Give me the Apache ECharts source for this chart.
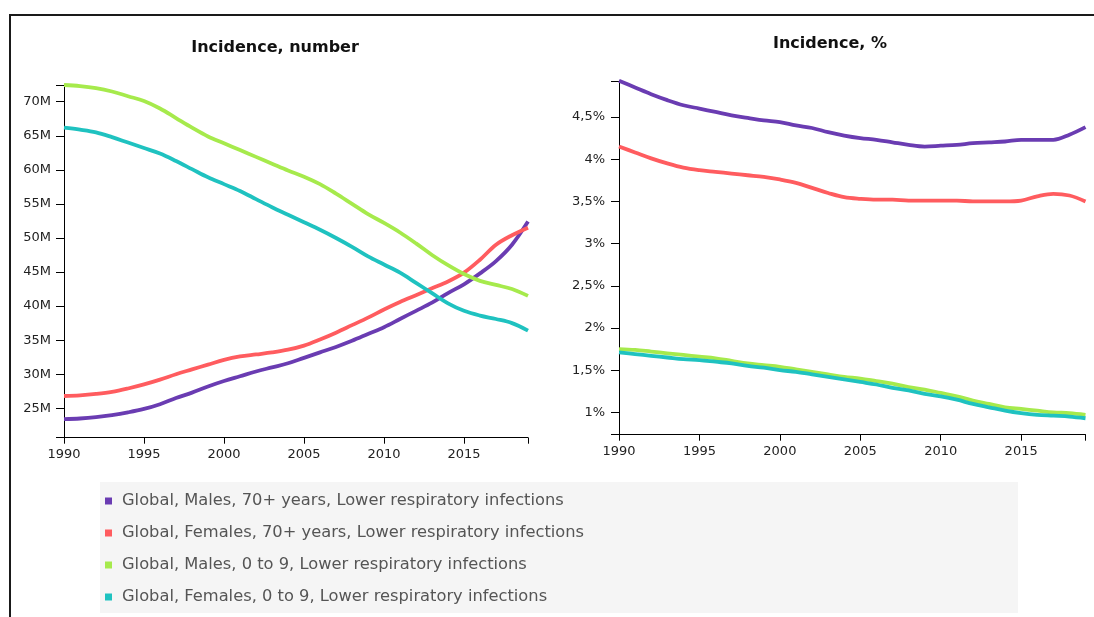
<!DOCTYPE html>
<html>
<head>
<meta charset="utf-8">
<script src="https://cdn.jsdelivr.net/npm/echarts@6/dist/echarts.min.js"></script>
<style>
html,body{margin:0;padding:0;background:#fff;overflow:hidden;}
#chart{width:1094px;height:617px;}
</style>
</head>
<body>
<div id="chart"></div>
<script>
const years = [1990,1991,1992,1993,1994,1995,1996,1997,1998,1999,2000,2001,2002,2003,2004,2005,2006,2007,2008,2009,2010,2011,2012,2013,2014,2015,2016,2017,2018,2019];
const seriesNames = [
  'Global, Males, 70+ years, Lower respiratory infections',
  'Global, Females, 70+ years, Lower respiratory infections',
  'Global, Males, 0 to 9, Lower respiratory infections',
  'Global, Females, 0 to 9, Lower respiratory infections'
];
const seriesColors = ['#6a3cb2', '#ff5c5f', '#a6ea4c', '#1fc2c0'];

// Incidence, number (millions)
const males70Number   = [23.4,23.5,23.7,24.0,24.4,24.9,25.6,26.5,27.3,28.2,29.0,29.7,30.4,31.0,31.6,32.4,33.2,34.0,34.9,35.9,36.9,38.1,39.3,40.5,41.9,43.2,44.8,46.6,49.0,52.4];
const females70Number = [26.8,26.9,27.1,27.4,27.9,28.5,29.2,30.0,30.7,31.4,32.1,32.6,32.9,33.2,33.6,34.2,35.1,36.1,37.2,38.3,39.5,40.6,41.6,42.6,43.6,44.9,46.8,49.0,50.4,51.5];
const males09Number   = [72.45,72.3,72.0,71.5,70.8,70.1,69.0,67.6,66.2,64.9,63.9,62.9,61.9,60.9,59.9,59.0,57.9,56.5,55.0,53.5,52.2,50.8,49.2,47.5,46.0,44.7,43.7,43.1,42.5,41.5];
const females09Number = [66.2,65.9,65.5,64.8,64.0,63.2,62.4,61.3,60.1,58.9,57.9,56.9,55.7,54.5,53.4,52.3,51.2,50.0,48.7,47.3,46.1,44.9,43.4,41.9,40.4,39.3,38.6,38.1,37.5,36.4];

// Incidence, %
const males70Pct   = [4.93,4.85,4.77,4.70,4.64,4.60,4.56,4.52,4.49,4.46,4.44,4.40,4.37,4.32,4.28,4.25,4.23,4.20,4.17,4.15,4.16,4.17,4.19,4.20,4.21,4.23,4.23,4.23,4.29,4.38];
const females70Pct = [4.15,4.08,4.01,3.95,3.90,3.87,3.85,3.83,3.81,3.79,3.76,3.72,3.66,3.60,3.55,3.53,3.52,3.52,3.51,3.51,3.51,3.51,3.50,3.50,3.50,3.51,3.56,3.59,3.57,3.50];
const males09Pct   = [1.75,1.74,1.72,1.70,1.68,1.66,1.64,1.61,1.58,1.56,1.54,1.51,1.48,1.45,1.42,1.40,1.37,1.34,1.30,1.27,1.23,1.19,1.14,1.10,1.06,1.04,1.02,1.00,0.99,0.97];
const females09Pct = [1.71,1.69,1.67,1.65,1.63,1.62,1.60,1.58,1.55,1.53,1.50,1.48,1.45,1.42,1.39,1.36,1.33,1.29,1.26,1.22,1.19,1.15,1.10,1.06,1.02,0.99,0.97,0.96,0.95,0.93];

const xTickLabels = [1990,1995,2000,2005,2010,2015];
const numberTickLabels = [25,30,35,40,45,50,55,60,65,70];
const pctTickLabels = [1,1.5,2,2.5,3,3.5,4,4.5];
const titles = ['Incidence, number', 'Incidence, %'];

const numberDomain = [20.68, 72.45];
const pctDomain = [0.735, 4.927];

const numberSets = [males70Number, females70Number, males09Number, females09Number];
const pctSets = [males70Pct, females70Pct, males09Pct, females09Pct];

const chart = echarts.init(document.getElementById('chart'));
const font = 'DejaVu Sans, Verdana, sans-serif';

function xAxisFor(gridIndex){
  return {
    type:'value', gridIndex, min:1990, max:2019,
    axisLine:{show:true, onZero:false, lineStyle:{color:'#000', width:1}},
    axisTick:{show:true, length:6, lineStyle:{color:'#000'}, customValues: xTickLabels.concat([2019])},
    axisLabel:{show:true, customValues: xTickLabels, margin:10, color:'#222', fontSize:13, fontFamily:font, formatter: v => String(v)},
    splitLine:{show:false}
  };
}
function yAxisFor(gridIndex, domain, ticks, fmt, margin){
  return {
    type:'value', gridIndex, min:domain[0], max:domain[1],
    axisLine:{show:true, lineStyle:{color:'#000', width:1}},
    axisTick:{show:true, length:8, lineStyle:{color:'#000'}, customValues: [domain[0]].concat(ticks, [domain[1]])},
    axisLabel:{show:true, customValues: ticks, margin, color:'#222', fontSize:13, fontFamily:font, formatter: fmt},
    splitLine:{show:false}
  };
}

const series = [];
numberSets.forEach((arr,i)=>{
  series.push({
    name: seriesNames[i], type:'line', xAxisIndex:0, yAxisIndex:0,
    data: years.map((y,k)=>[y, arr[k]]),
    showSymbol:false, smooth:0.35, clip:false,
    lineStyle:{width:3.8, color:seriesColors[i]}, itemStyle:{color:seriesColors[i]},
    emphasis:{disabled:true}
  });
});
pctSets.forEach((arr,i)=>{
  series.push({
    name: seriesNames[i], type:'line', xAxisIndex:1, yAxisIndex:1,
    data: years.map((y,k)=>[y, arr[k]]),
    showSymbol:false, smooth:0.35, clip:false,
    lineStyle:{width:3.8, color:seriesColors[i]}, itemStyle:{color:seriesColors[i]},
    emphasis:{disabled:true}
  });
});

chart.setOption({
  animation:false,
  backgroundColor:'#fff',
  title:[
    {text:titles[0], left:270, top:35, textAlign:'center', textStyle:{fontFamily:font, fontWeight:'bold', fontSize:16, color:'#111'}},
    {text:titles[1], left:825, top:31, textAlign:'center', textStyle:{fontFamily:font, fontWeight:'bold', fontSize:16, color:'#111'}}
  ],
  grid:[
    {left:64, right:566, top:85, bottom:179.3},
    {left:619, right:8.5, top:81, bottom:182.3}
  ],
  xAxis:[xAxisFor(0), xAxisFor(1)],
  yAxis:[
    yAxisFor(0, numberDomain, numberTickLabels, v => v + 'M', 13),
    yAxisFor(1, pctDomain, pctTickLabels, v => String(v).replace('.', ',') + '%', 14)
  ],
  legend:{
    orient:'vertical', left:100, top:488, z:10,
    data: seriesNames,
    icon:'rect', itemWidth:7, itemHeight:7, itemGap:16,
    selectedMode:false,
    textStyle:{fontFamily:font, fontSize:16.3, color:'#555', lineHeight:16, padding:[0,0,0,5]}
  },
  graphic:[
    {type:'rect', z:-10, shape:{x:10, y:15, width:1200, height:700}, style:{fill:'none', stroke:'#1a1a1a', lineWidth:2}},
    {type:'rect', z:-10, shape:{x:100, y:482, width:918, height:131}, style:{fill:'#f5f5f5'}}
  ],
  series
});
</script>
</body>
</html>
